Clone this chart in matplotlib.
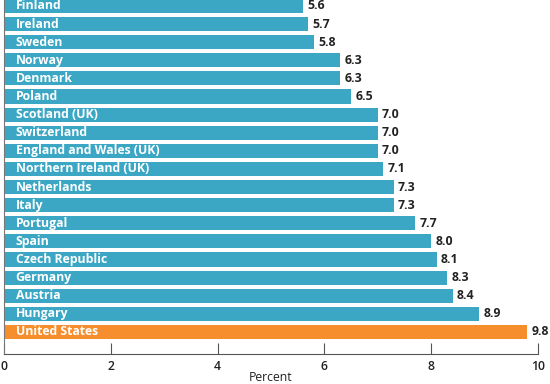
import matplotlib.pyplot as plt

countries = ["Finland", "Ireland", "Sweden", "Norway", "Denmark", "Poland",
             "Scotland (UK)", "Switzerland", "England and Wales (UK)",
             "Northern Ireland (UK)", "Netherlands", "Italy", "Portugal",
             "Spain", "Czech Republic", "Germany", "Austria", "Hungary",
             "United States"]
values = [5.6, 5.7, 5.8, 6.3, 6.3, 6.5, 7.0, 7.0, 7.0, 7.1, 7.3, 7.3, 7.7,
          8.0, 8.1, 8.3, 8.4, 8.9, 9.8]

blue = "#3ba7c5"
orange = "#f68e2e"
font = "Open Sans"

fig = plt.figure(figsize=(5.5, 3.84), dpi=100)
ax = fig.add_axes([4 / 550, 30 / 384, 534 / 550, 354 / 384])

n = len(countries)
ypos = [n - 1 - i for i in range(n)]
colors = [orange if c == "United States" else blue for c in countries]
ax.barh(ypos, values, height=0.78, color=colors, zorder=2)

for y, c, v in zip(ypos, countries, values):
    ax.text(0.22, y, c, color="white", fontsize=8.8, fontweight="bold",
            family=font, va="center", ha="left", zorder=3)
    ax.text(v + 0.08, y, f"{v:.1f}", color="#222222", fontsize=8.8,
            fontweight="bold", family=font, va="center", ha="left")

ax.set_xlim(0, 10)
ax.set_ylim(-1.22, n - 1 + 0.33)
ax.set_xticks([0, 2, 4, 6, 8, 10])
ax.set_yticks([])
ax.tick_params(axis="x", direction="in", length=8, color="#555555",
               labelsize=8.8, labelcolor="#222222", pad=4)
for lab in ax.get_xticklabels():
    lab.set_family(font)
    lab.set_fontweight("semibold")
ax.set_xlabel("Percent", fontsize=8.8, family=font, color="#222222", labelpad=-1)
for s in ["top", "right"]:
    ax.spines[s].set_visible(False)
ax.spines["left"].set_color("#777777")
ax.spines["bottom"].set_color("#555555")

fig.savefig("out.png", dpi=100)
